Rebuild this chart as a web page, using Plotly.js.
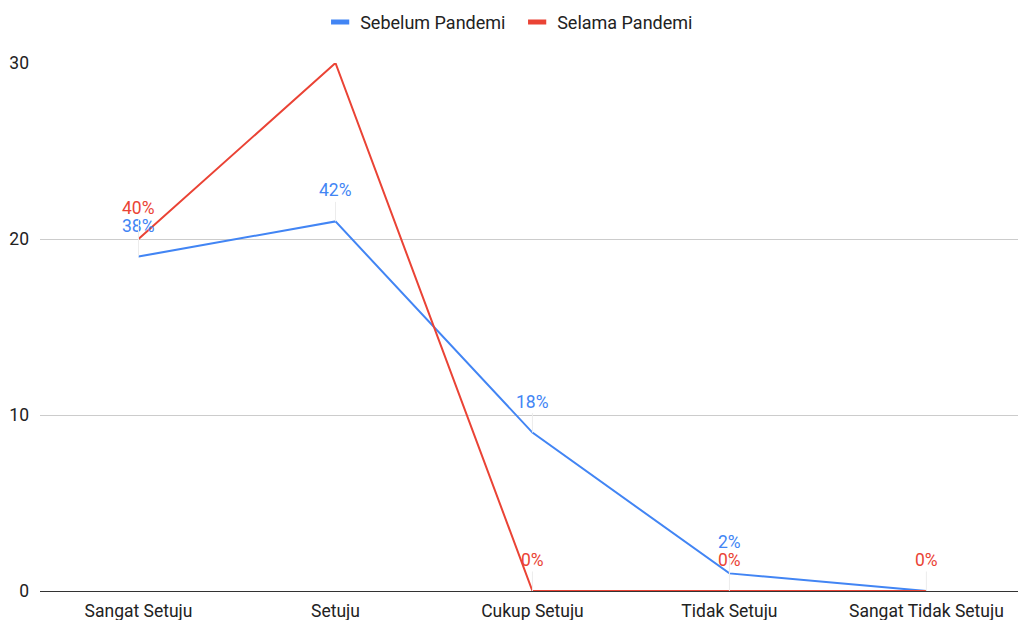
<!DOCTYPE html>
<html>
<head>
<meta charset="utf-8">
<script src="https://cdn.plot.ly/plotly-3.0.1.min.js"></script>
<style>
  html, body { margin: 0; padding: 0; background: #fff; }
  #chart { width: 1018px; height: 620px; }
</style>
</head>
<body>
<div id="chart"></div>
<script>
// Survey responses, before and during the pandemic
const categories = ['Sangat Setuju', 'Setuju', 'Cukup Setuju', 'Tidak Setuju', 'Sangat Tidak Setuju'];
const sebelumValues = [19, 21, 9, 1, 0];
const selamaValues = [20, 30, 0, 0, 0];
// Percentage labels shown on the points (empty = not shown)
const sebelumLabels = ['38%', '42%', '18%', '2%', ''];
const selamaLabels = ['40%', '', '0%', '0%', '0%'];
const yTicks = [0, 10, 20, 30];

const BLUE = '#4285F4';
const RED = '#EA4335';
const FONT = 'Roboto, Arial, sans-serif';
const FS = 17.5;

function series(name, values, color) {
  return {
    name: name,
    x: categories,
    y: values,
    type: 'scatter',
    mode: 'lines',
    line: { color: color, width: 2 },
    cliponaxis: false,
    showlegend: false
  };
}

// Legend entries drawn as short thick bars
function legendEntry(name, color) {
  return {
    name: name,
    x: [null],
    y: [null],
    type: 'scatter',
    mode: 'markers',
    marker: { symbol: 'line-ew-open', size: 13, color: color, line: { color: color, width: 5 } },
    showlegend: true
  };
}

const traces = [
  series('Sebelum Pandemi', sebelumValues, BLUE),
  series('Selama Pandemi', selamaValues, RED),
  legendEntry('Sebelum Pandemi', BLUE),
  legendEntry('Selama Pandemi', RED)
];

function labelAnnotations(values, labels, color) {
  const out = [];
  values.forEach((v, i) => {
    if (!labels[i]) return;
    out.push({
      x: categories[i],
      y: v,
      xref: 'x',
      yref: 'y',
      text: labels[i],
      showarrow: true,
      arrowhead: 0,
      arrowwidth: 1,
      arrowcolor: '#ececec',
      ax: 0,
      ay: -31,
      font: { family: FONT, size: FS, color: color }
    });
  });
  return out;
}

const annotations = []
  .concat(labelAnnotations(sebelumValues, sebelumLabels, BLUE))
  .concat(labelAnnotations(selamaValues, selamaLabels, RED));

const layout = {
  width: 1018,
  height: 620,
  margin: { l: 40, r: 0, t: 63, b: 29 },
  paper_bgcolor: '#ffffff',
  plot_bgcolor: '#ffffff',
  font: { family: FONT, size: FS, color: '#222222' },
  showlegend: true,
  legend: {
    orientation: 'h',
    x: 0.508,
    xanchor: 'center',
    xref: 'container',
    y: 0.994,
    yref: 'container',
    yanchor: 'top',
    font: { family: FONT, size: 18, color: '#222222' },
    itemwidth: 30,
    entrywidth: 152
  },
  xaxis: {
    type: 'category',
    range: [-0.5, 4.465],
    showgrid: false,
    zeroline: false,
    showline: true,
    linecolor: '#333333',
    linewidth: 1,
    ticks: '',
    ticklabelstandoff: 4,
    tickfont: { family: FONT, size: FS, color: '#222222' },
    fixedrange: true
  },
  yaxis: {
    range: [0, 30],
    tickvals: yTicks,
    ticktext: yTicks.map(String),
    showgrid: true,
    gridcolor: '#cccccc',
    gridwidth: 1,
    zeroline: false,
    showline: false,
    ticks: '',
    ticklabelstandoff: 10,
    tickfont: { family: FONT, size: FS, color: '#222222' },
    fixedrange: true
  },
  annotations: annotations
};

Plotly.newPlot('chart', traces, layout, { displayModeBar: false, staticPlot: true });
</script>
</body>
</html>
